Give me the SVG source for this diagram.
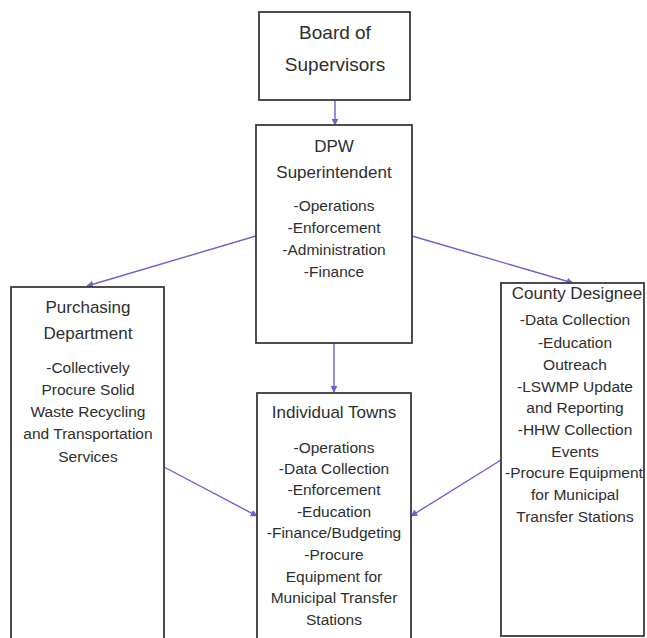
<svg xmlns="http://www.w3.org/2000/svg" width="647" height="638" viewBox="0 0 647 638">
<defs>
<style>
.box{fill:#fff;stroke:#3a3a3a;stroke-width:1.8}
.t{font-family:"Liberation Sans",Arial,sans-serif;fill:#2e2e2e;text-anchor:middle}
.h{font-size:17px}
.h2{font-size:19px}
.i{font-size:15.5px}
.c{stroke:#6464d2;stroke-width:1.4;fill:none;marker-end:url(#ah)}
</style>
<marker id="ah" viewBox="0 0 10 10" refX="9" refY="5" markerWidth="7" markerHeight="7" orient="auto" markerUnits="userSpaceOnUse">
<path d="M0,0 L10,5 L0,10 z" fill="#6464d2"/>
</marker>
</defs>
<rect width="647" height="638" fill="#fff"/>
<g id="connectors">
<line class="c" x1="335" y1="100" x2="335" y2="125"/>
<line class="c" x1="256" y1="236" x2="87" y2="286"/>
<line class="c" x1="412" y1="236" x2="573" y2="283"/>
<line class="c" x1="334" y1="343" x2="334" y2="392"/>
<line class="c" x1="164" y1="467" x2="257" y2="516"/>
<line class="c" x1="501" y1="460" x2="411" y2="516"/>
</g>
<g id="board">
<rect class="box" x="259" y="12" width="151" height="88"/>
<text class="t h2" x="335" y="39">Board of</text>
<text class="t h2" x="335" y="71">Supervisors</text>
</g>
<g id="dpw">
<rect class="box" x="256" y="125" width="156" height="218"/>
<text class="t h" x="334" y="152">DPW</text>
<text class="t h" x="334" y="178">Superintendent</text>
<text class="t i" x="334" y="211">-Operations</text>
<text class="t i" x="334" y="233">-Enforcement</text>
<text class="t i" x="334" y="255">-Administration</text>
<text class="t i" x="334" y="277">-Finance</text>
</g>
<g id="purchasing">
<rect class="box" x="11" y="287" width="153" height="360"/>
<text class="t h" x="88" y="313">Purchasing</text>
<text class="t h" x="88" y="339">Department</text>
<text class="t i" x="88" y="373">-Collectively</text>
<text class="t i" x="88" y="395">Procure Solid</text>
<text class="t i" x="88" y="417">Waste Recycling</text>
<text class="t i" x="88" y="439">and Transportation</text>
<text class="t i" x="88" y="462">Services</text>
</g>
<g id="county">
<rect class="box" x="501" y="283" width="143" height="353"/>
<text class="t h" x="577" y="299">County Designee</text>
<text class="t i" x="575" y="325">-Data Collection</text>
<text class="t i" x="575" y="348">-Education</text>
<text class="t i" x="575" y="370">Outreach</text>
<text class="t i" x="575" y="392">-LSWMP Update</text>
<text class="t i" x="575" y="413">and Reporting</text>
<text class="t i" x="575" y="435">-HHW Collection</text>
<text class="t i" x="575" y="457">Events</text>
<text class="t i" x="574" y="478">-Procure Equipment</text>
<text class="t i" x="575" y="500">for Municipal</text>
<text class="t i" x="575" y="522">Transfer Stations</text>
</g>
<g id="towns">
<rect class="box" x="257" y="393" width="154" height="260"/>
<text class="t h" x="334" y="418">Individual Towns</text>
<text class="t i" x="334" y="453">-Operations</text>
<text class="t i" x="334" y="474">-Data Collection</text>
<text class="t i" x="334" y="495">-Enforcement</text>
<text class="t i" x="334" y="517">-Education</text>
<text class="t i" x="334" y="538">-Finance/Budgeting</text>
<text class="t i" x="334" y="560">-Procure</text>
<text class="t i" x="334" y="582">Equipment for</text>
<text class="t i" x="334" y="603">Municipal Transfer</text>
<text class="t i" x="334" y="625">Stations</text>
</g>
</svg>
